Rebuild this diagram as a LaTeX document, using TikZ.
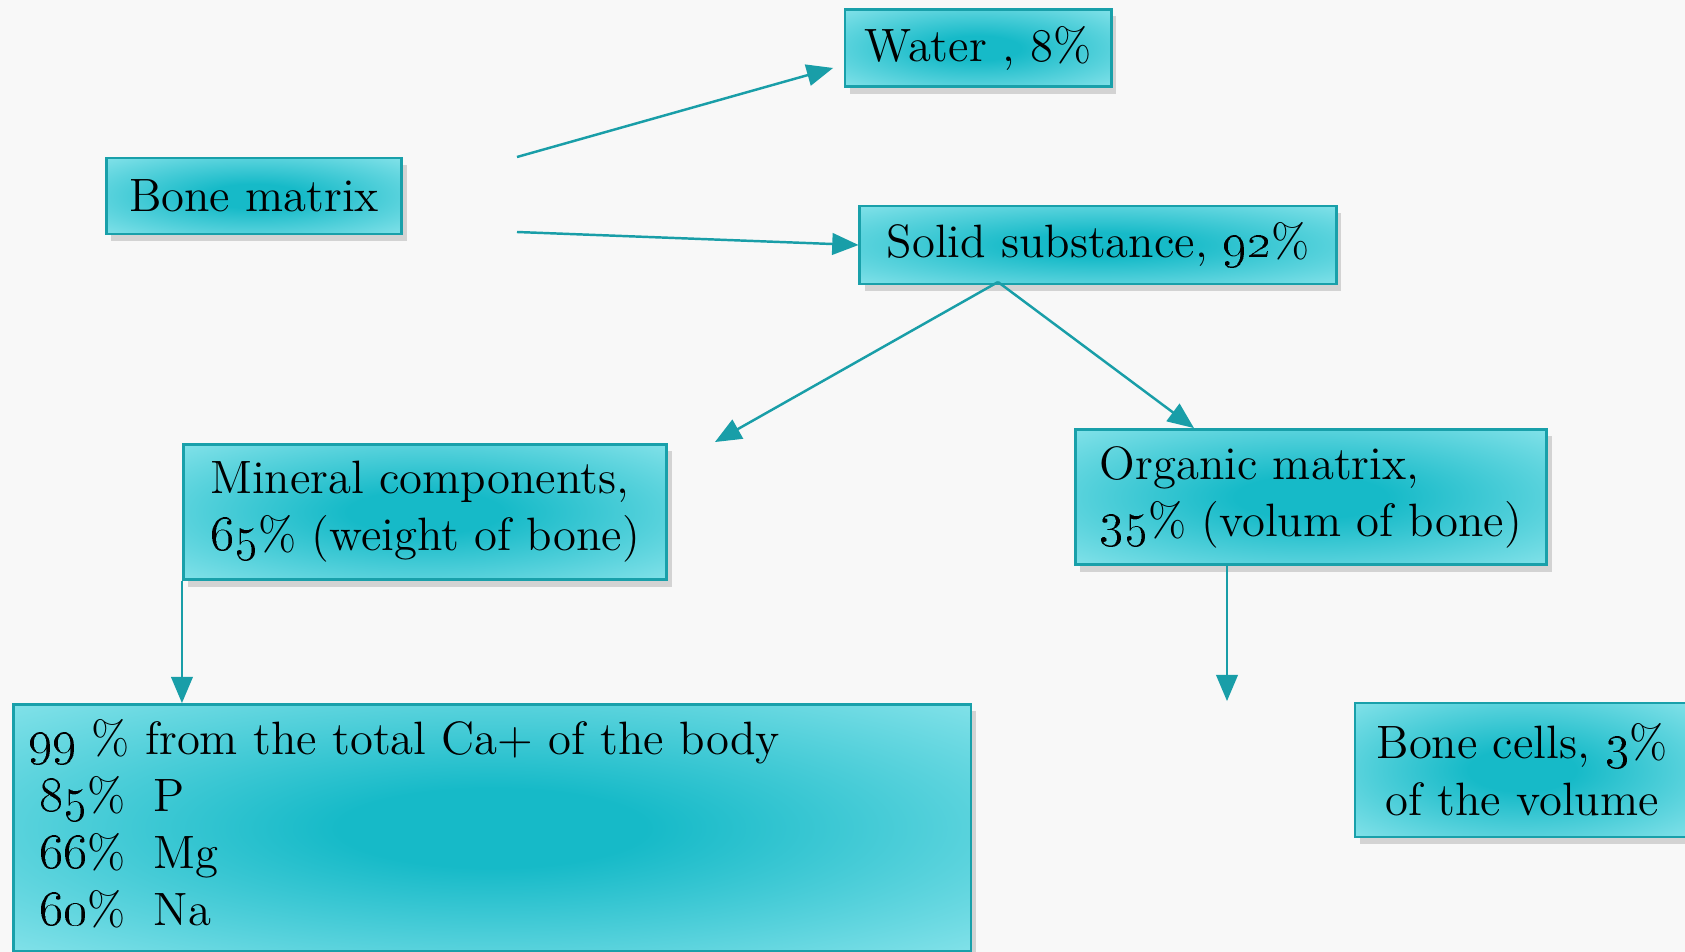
\documentclass[tikz,border=0pt]{standalone}
\usetikzlibrary{arrows,shadows}
\definecolor{boxteal}{RGB}{22,186,200}
\definecolor{boxlight}{RGB}{186,246,250}
\definecolor{boxedge}{RGB}{25,160,170}
\definecolor{linkteal}{RGB}{25,158,168}
\definecolor{paper}{RGB}{248,248,248}
\pgfdeclareradialshading{boxglow}{\pgfpoint{0bp}{0bp}}{color(0bp)=(boxteal); color(8bp)=(boxteal); color(50bp)=(boxlight); color(75bp)=(boxlight)}

\begin{document}
\begin{tikzpicture}[x=0.01cm, y=-0.01cm]
    \tikzset{box/.style = {shape=rectangle, draw=boxedge, line width=0.8pt, shading=boxglow, inner sep=0pt,
        drop shadow={shadow xshift=0.05cm, shadow yshift=-0.07cm, opacity=0.3},
        font=\fontsize{13.3}{16.2}\selectfont}}
    \tikzset{link/.style = {draw=linkteal, line width=0.7pt, -triangle 45}}

    \useasboundingbox (0,0) rectangle (1685,952);
    \clip (0,0) rectangle (1685,952);
    \fill[paper] (0,0) rectangle (1685,952);

    % boxes
    \node[box, minimum width=2.66cm, minimum height=0.77cm] (water) at (978,48) {Water , 8\%};
    \node[box, minimum width=2.95cm, minimum height=0.76cm] (bone) at (254,196) {Bone matrix};
    \node[box, minimum width=4.76cm, minimum height=0.78cm] (solid) at (1098,245) {Solid substance, \oldstylenums{92}\%};
    \node[box, minimum width=4.83cm, minimum height=1.35cm, align=left] (mineral) at (425,512)
        {Mineral components,\\\oldstylenums{65}\% (weight of bone)};
    \node[box, minimum width=4.71cm, minimum height=1.35cm, align=left] (organic) at (1311,497)
        {Organic matrix,\\\oldstylenums{35}\% (volum of bone)};
    \node[box, anchor=north west, inner sep=0.15cm] (calcium) at (12,703)
        {\begin{minipage}[t][2.17cm][t]{9.27cm}
        \oldstylenums{99} \% from the total Ca+ of the body\\
        \hspace*{0.11cm}\oldstylenums{85}\%\hspace{0.6em}P\\
        \hspace*{0.11cm}\oldstylenums{66}\%\hspace{0.6em}Mg\\
        \hspace*{0.11cm}\oldstylenums{60}\%\hspace{0.6em}Na
        \end{minipage}};
    \node[box, minimum width=3.34cm, minimum height=1.34cm, align=center] (cells) at (1522,770)
        {Bone cells, \oldstylenums{3}\%\\of the volume};

    % free ends
    \coordinate (bone upper) at (517,157);
    \coordinate (bone lower) at (517,232);
    \coordinate (water in) at (833,68);
    \coordinate (solid split) at (998,282);
    \coordinate (mineral in) at (715,442);
    \coordinate (organic foot) at (1227,565);
    \coordinate (cells in) at (1227,701);

    % arrows
    \draw [link] (bone upper) -- (water in);
    \draw [link] (bone lower) -- (solid.west);
    \draw [link] (solid split) -- (mineral in);
    \draw [link] (solid split) -- ([xshift=-1.17cm]organic.north);
    \draw [link] (mineral.south west) -- (mineral.south west |- calcium.north);
    \draw [link] (organic foot) -- (cells in);
\end{tikzpicture}
\end{document}
